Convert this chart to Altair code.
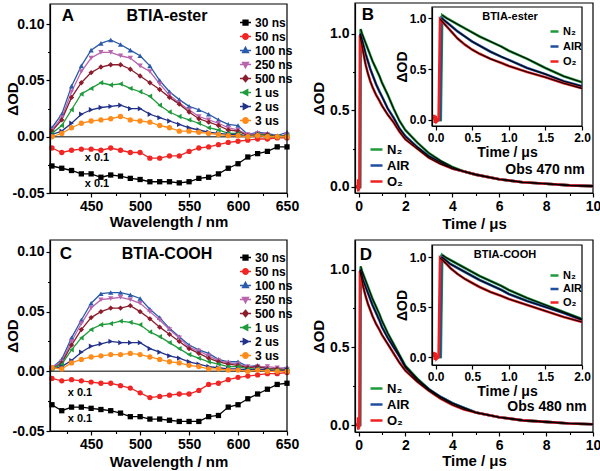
import altair as alt
import pandas as pd

FONT = "Liberation Sans"
W, H = 600, 471

# ---------------- spectra data ----------------
wavelength = [410, 420, 430, 440, 450, 460, 470, 480, 490, 500, 510, 520, 530,
              540, 550, 560, 570, 580, 590, 600, 610, 620, 630, 640, 650]
delays = ["30 ns", "50 ns", "100 ns", "250 ns", "500 ns", "1 us", "2 us", "3 us"]
delay_colors = ["#000000", "#f22525", "#2a5bab", "#b865ad", "#8b1d2c",
                "#1f9b3c", "#22318a", "#ff8c1a"]
delay_shapes = ["square", "circle", "triangle-up", "triangle-down", "diamond",
                "triangle-left", "triangle-right", "circle"]
# legend glyphs: a short line with the marker in its middle (unit square -1..1)
legend_glyphs = [
    "M-1,0H1M-0.45,-0.45H0.45V0.45H-0.45Z",
    "M-1,0H1M-0.5,0A0.5,0.5,0,1,0,0.5,0A0.5,0.5,0,1,0,-0.5,0Z",
    "M-1,0H1M0,-0.6L0.55,0.4L-0.55,0.4Z",
    "M-1,0H1M0,0.6L0.55,-0.4L-0.55,-0.4Z",
    "M-1,0H1M0,-0.6L0.5,0L0,0.6L-0.5,0Z",
    "M-1,0H1M-0.6,0L0.4,-0.55L0.4,0.55Z",
    "M-1,0H1M0.6,0L-0.4,-0.55L-0.4,0.55Z",
    "M-1,0H1M-0.5,0A0.5,0.5,0,1,0,0.5,0A0.5,0.5,0,1,0,-0.5,0Z",
]

ester_30ns = [-0.026, -0.028, -0.030, -0.033, -0.033, -0.036, -0.034, -0.035, -0.037, -0.038,
              -0.040, -0.040, -0.040, -0.041, -0.040, -0.037, -0.036, -0.033, -0.028, -0.024,
              -0.018, -0.015, -0.013, -0.009, -0.009]
ester_50ns = [-0.010, -0.014, -0.012, -0.011, -0.011, -0.012, -0.010, -0.012, -0.014, -0.014,
              -0.019, -0.019, -0.017, -0.017, -0.013, -0.010, -0.009, -0.007, -0.005, -0.004,
              -0.003, -0.002, -0.002, -0.001, -0.001]
ester_100ns = [0.008, 0.020, 0.045, 0.063, 0.077, 0.083, 0.086, 0.082, 0.077, 0.072,
               0.063, 0.050, 0.040, 0.033, 0.027, 0.024, 0.020, 0.015, 0.011, 0.010,
               0.002, 0.004, 0.003, 0.001, 0.004]
ester_250ns = [0.006, 0.017, 0.040, 0.058, 0.070, 0.075, 0.075, 0.072, 0.070, 0.063,
               0.058, 0.047, 0.037, 0.030, 0.024, 0.018, 0.015, 0.012, 0.008, 0.006,
               0.002, 0.003, 0.002, 0.000, 0.002]
ester_500ns = [0.005, 0.015, 0.035, 0.048, 0.057, 0.062, 0.064, 0.064, 0.060, 0.054,
               0.048, 0.042, 0.035, 0.029, 0.022, 0.016, 0.013, 0.010, 0.006, 0.005,
               0.001, 0.002, 0.002, 0.000, 0.001]
ester_1us = [0.003, 0.010, 0.024, 0.038, 0.043, 0.048, 0.046, 0.047, 0.043, 0.040,
             0.036, 0.028, 0.022, 0.018, 0.015, 0.012, 0.008, 0.006, 0.003, 0.003,
             0.000, 0.002, 0.001, 0.000, 0.001]
ester_2us = [0.002, 0.005, 0.012, 0.020, 0.024, 0.026, 0.027, 0.028, 0.025, 0.025,
             0.020, 0.017, 0.014, 0.011, 0.008, 0.006, 0.004, 0.003, 0.002, 0.002,
             0.000, 0.001, 0.000, 0.000, 0.000]
ester_3us = [0.000, 0.003, 0.008, 0.012, 0.014, 0.015, 0.016, 0.018, 0.015, 0.014,
             0.013, 0.010, 0.008, 0.005, 0.005, 0.004, 0.003, 0.002, 0.001, 0.001,
             0.000, 0.001, 0.000, 0.000, 0.000]

cooh_30ns = [-0.028, -0.033, -0.030, -0.030, -0.031, -0.032, -0.033, -0.035, -0.038, -0.038,
             -0.040, -0.040, -0.041, -0.042, -0.042, -0.042, -0.038, -0.037, -0.030, -0.028,
             -0.023, -0.019, -0.015, -0.011, -0.010]
cooh_50ns = [-0.006, -0.008, -0.007, -0.008, -0.009, -0.010, -0.010, -0.012, -0.014, -0.018,
             -0.022, -0.021, -0.020, -0.019, -0.019, -0.016, -0.011, -0.010, -0.007, -0.005,
             -0.004, -0.003, -0.002, -0.002, -0.001]
cooh_100ns = [0.003, 0.010, 0.028, 0.043, 0.057, 0.065, 0.066, 0.066, 0.064, 0.061,
              0.052, 0.045, 0.036, 0.029, 0.022, 0.018, 0.015, 0.010, 0.008, 0.008,
              0.004, 0.005, 0.002, 0.002, 0.003]
cooh_250ns = [0.003, 0.008, 0.025, 0.040, 0.053, 0.060, 0.061, 0.062, 0.060, 0.057,
              0.050, 0.043, 0.035, 0.028, 0.020, 0.017, 0.013, 0.009, 0.007, 0.006,
              0.004, 0.004, 0.004, 0.003, 0.002]
cooh_500ns = [0.002, 0.007, 0.022, 0.035, 0.045, 0.050, 0.053, 0.053, 0.055, 0.050,
              0.044, 0.037, 0.031, 0.025, 0.019, 0.015, 0.011, 0.008, 0.006, 0.005,
              0.003, 0.004, 0.002, 0.002, 0.001]
cooh_1us = [0.002, 0.006, 0.018, 0.028, 0.035, 0.039, 0.040, 0.042, 0.041, 0.039,
            0.033, 0.029, 0.024, 0.019, 0.014, 0.011, 0.008, 0.006, 0.004, 0.004,
            0.002, 0.002, 0.001, 0.001, 0.001]
cooh_2us = [0.002, 0.004, 0.009, 0.016, 0.021, 0.023, 0.025, 0.024, 0.024, 0.024,
            0.019, 0.016, 0.013, 0.011, 0.008, 0.006, 0.004, 0.003, 0.002, 0.002,
            0.001, 0.002, 0.001, 0.000, 0.001]
cooh_3us = [0.003, 0.002, 0.007, 0.010, 0.012, 0.013, 0.014, 0.014, 0.015, 0.014,
            0.012, 0.010, 0.008, 0.007, 0.005, 0.004, 0.002, 0.002, 0.001, 0.001,
            0.000, 0.001, 0.000, 0.000, 0.000]

# ---------------- kinetics data ----------------
gases = ["N\u2082", "AIR", "O\u2082"]
gas_colors = ["#1e9a3a", "#1f4e9f", "#f02020"]

t_n2 = [-0.15, 0.0, 0.07, 0.09, 0.15, 0.2, 0.3, 0.4, 0.5, 0.6, 0.75, 0.9, 1.0, 1.25, 1.5,
        1.75, 2.0, 2.5, 3.0, 3.5, 4.0, 4.5, 5.0, 6.0, 7.0, 8.0, 9.0, 10.0]
t_air = [-0.15, 0.0, 0.06, 0.08, 0.15, 0.2, 0.3, 0.4, 0.5, 0.6, 0.75, 0.9, 1.0, 1.25, 1.5,
         1.75, 2.0, 2.5, 3.0, 3.5, 4.0, 4.5, 5.0, 6.0, 7.0, 8.0, 9.0, 10.0]
t_o2 = [-0.15, -0.03, -0.02, -0.01, 0.0, 0.01, 0.04, 0.06, 0.15, 0.2, 0.3, 0.4, 0.5, 0.6,
        0.75, 0.9, 1.0, 1.25, 1.5, 1.75, 2.0, 2.5, 3.0, 3.5, 4.0, 4.5, 5.0, 6.0, 7.0, 8.0,
        9.0, 10.0]

ester_n2 = [0.0, 0.0, 0.0, 1.03, 1.00, 0.98, 0.94, 0.90, 0.86, 0.82, 0.77, 0.72, 0.68, 0.60,
            0.51, 0.43, 0.37, 0.29, 0.22, 0.17, 0.13, 0.10, 0.08, 0.05, 0.03, 0.02, 0.01, 0.005]
ester_air = [0.0, 0.0, 0.0, 1.00, 0.96, 0.93, 0.87, 0.82, 0.77, 0.73, 0.67, 0.62, 0.59, 0.51,
             0.45, 0.38, 0.33, 0.26, 0.20, 0.16, 0.12, 0.10, 0.08, 0.05, 0.03, 0.02, 0.01, 0.005]
ester_o2 = [0.0, 0.0, 0.05, -0.03, 0.04, -0.02, 0.0, 0.99, 0.92, 0.88, 0.80, 0.74, 0.69, 0.65,
            0.60, 0.56, 0.53, 0.47, 0.42, 0.36, 0.31, 0.25, 0.19, 0.15, 0.12, 0.10, 0.08, 0.05,
            0.03, 0.02, 0.01, 0.005]

cooh_n2 = [0.0, 0.0, 0.0, 1.02, 0.99, 0.97, 0.93, 0.89, 0.85, 0.81, 0.76, 0.71, 0.67, 0.59,
           0.52, 0.45, 0.38, 0.30, 0.23, 0.18, 0.14, 0.11, 0.08, 0.05, 0.03, 0.02, 0.01, 0.005]
cooh_air = [0.0, 0.0, 0.0, 1.00, 0.96, 0.93, 0.89, 0.85, 0.81, 0.77, 0.72, 0.67, 0.63, 0.56,
            0.50, 0.44, 0.37, 0.29, 0.23, 0.18, 0.14, 0.11, 0.08, 0.05, 0.03, 0.02, 0.01, 0.005]
cooh_o2 = [0.0, 0.0, 0.05, -0.03, 0.04, -0.02, 0.0, 0.99, 0.93, 0.89, 0.83, 0.78, 0.74, 0.70,
           0.65, 0.61, 0.58, 0.52, 0.46, 0.40, 0.35, 0.28, 0.22, 0.17, 0.13, 0.10, 0.08, 0.05,
           0.03, 0.02, 0.01, 0.005]
peak_index = [3, 3, 7]

AX = dict(labelFont=FONT, labelFontWeight="bold", labelColor="black",
          titleFont=FONT, titleFontWeight="bold", titleColor="black",
          domainColor="black", domainWidth=1.2, tickColor="black", tickWidth=1.2,
          grid=False, labelFlush=False, labelOverlap=False, zindex=1)


def txt(text, x, y, size, align="center"):
    return alt.Chart(alt.Data(values=[{}])).mark_text(
        text=text, font=FONT, fontSize=size, fontWeight="bold", align=align,
        baseline="middle", color="black").encode(x=alt.value(x), y=alt.value(y))


def minor_ticks(xr, yr, xdom, ydom, xvals, yvals):
    """Unlabelled minor ticks on an identical, separate copy of a panel's scales."""
    xsc = alt.Scale(domain=xdom, range=xr, nice=False, zero=False)
    ysc = alt.Scale(domain=ydom, range=yr, nice=False, zero=False)
    mk = dict(labels=False, domain=False, title=None, tickSize=2.5, tickColor="black",
              tickWidth=1.1, grid=False, zindex=1)
    df = pd.DataFrame({"a": xdom, "b": ydom})
    return alt.Chart(df).mark_point(opacity=0).encode(
        x=alt.X("a:Q", scale=xsc,
                axis=alt.Axis(orient="bottom", offset=yr[0] - H, values=xvals, **mk)),
        y=alt.Y("b:Q", scale=ysc,
                axis=alt.Axis(orient="left", offset=-xr[0], values=yvals, **mk)))


def delay_legend(leg_xy):
    """Legend of line+marker glyphs, from its own colour and shape scales."""
    df = pd.DataFrame({"delay": delays})
    leg = alt.Legend(orient="none", legendX=leg_xy[0], legendY=leg_xy[1], title=None,
                     labelFont=FONT, labelFontSize=12, labelFontWeight="bold",
                     labelColor="black", labelOffset=3, rowPadding=1, padding=0,
                     symbolSize=121, symbolStrokeWidth=1.3, symbolOpacity=1)
    return alt.Chart(df).mark_point(filled=True, opacity=0).encode(
        x=alt.value(0), y=alt.value(0),
        fill=alt.Fill("delay:N", scale=alt.Scale(domain=delays, range=delay_colors),
                      legend=leg),
        stroke=alt.Stroke("delay:N", scale=alt.Scale(domain=delays, range=delay_colors),
                          legend=leg),
        shape=alt.Shape("delay:N", scale=alt.Scale(domain=delays, range=legend_glyphs),
                        legend=leg))


def spectra_panel(series, xr, yr, ydom, letter, name, notes, title_y):
    rows = []
    for d, vals in zip(delays, series):
        for w, v in zip(wavelength, vals):
            rows.append({"wl": w, "od": v, "delay": d})
    df = pd.DataFrame(rows)
    xdom = [408, 650]
    xsc = alt.Scale(domain=xdom, range=xr, nice=False, zero=False)
    ysc = alt.Scale(domain=ydom, range=yr, nice=False, zero=False)
    xax = alt.Axis(orient="bottom", offset=yr[0] - H, values=[450, 500, 550, 600, 650],
                   format="d", labelFontSize=14, tickSize=4, labelPadding=2,
                   title="Wavelength / nm", titleFontSize=15,
                   titleX=(xr[0] + xr[1]) / 2, titleY=title_y, titleAlign="center",
                   titleBaseline="middle", **AX)
    yax = alt.Axis(orient="left", offset=-xr[0], values=[-0.05, 0.0, 0.05, 0.10],
                   labelExpr="replace(format(datum.value, '.2f'), '\u2212', '-')",
                   labelFontSize=14, tickSize=4, labelPadding=2,
                   title="\u0394OD", titleFontSize=15, titleAngle=270,
                   titleX=12 - xr[0], titleY=(yr[0] + yr[1]) / 2,
                   titleAlign="center", titleBaseline="middle", **AX)
    X = alt.X("wl:Q", scale=xsc, axis=xax)
    Y = alt.Y("od:Q", scale=ysc, axis=yax)
    base = alt.Chart(df)
    lines = base.mark_line(strokeWidth=1.3).encode(
        x=X, y=Y,
        color=alt.Color("delay:N", scale=alt.Scale(domain=delays, range=delay_colors),
                        legend=None))
    points = base.mark_point(filled=True, size=28, opacity=1, strokeWidth=0).encode(
        x=X, y=Y,
        fill=alt.Fill("delay:N", scale=alt.Scale(domain=delays, range=delay_colors),
                      legend=None),
        shape=alt.Shape("delay:N", scale=alt.Scale(domain=delays, range=delay_shapes),
                        legend=None))
    zero = alt.Chart(alt.Data(values=[{}])).mark_rule(color="#555555", strokeWidth=1.6).encode(
        x=alt.datum(xdom[0], scale=xsc), x2=alt.datum(xdom[1]),
        y=alt.datum(0.0, scale=ysc))
    frame = alt.Chart(alt.Data(values=[{}])).mark_rect(
        fillOpacity=0, stroke="black", strokeWidth=1.2).encode(
        x=alt.datum(xdom[0], scale=xsc), x2=alt.datum(xdom[1]),
        y=alt.datum(ydom[0], scale=ysc), y2=alt.datum(ydom[1]))
    texts = [txt(letter[0], letter[1], letter[2], 17),
             txt(name[0], name[1], name[2], 16)]
    for nx, ny in notes:
        texts.append(txt("x 0.1", nx, ny, 11))
    return alt.layer(zero, lines, points, frame, *texts)


def kin_frames(ts, vs, tmin=-1.0, tmax=100.0):
    rows, fit = [], []
    for g, t, v, p in zip(gases, ts, vs, peak_index):
        for i, (tt, vv) in enumerate(zip(t, v)):
            if tt < tmin or tt > tmax:
                continue
            rows.append({"t": tt, "v": vv, "gas": g})
            if i >= p:
                fit.append({"t": tt, "v": vv, "gas": g})
    return pd.DataFrame(rows), pd.DataFrame(fit)


def kin_panel(df, fit, xr, yr, xdom, ydom, xvals, xfmt, lab_size, title_size, tick_title_y,
              ytitle_x, leg_xy, leg_size, sym, row_pad, inset=False, texts=()):
    xsc = alt.Scale(domain=xdom, range=xr, nice=False, zero=False)
    ysc = alt.Scale(domain=ydom, range=yr, nice=False, zero=False)
    xax = alt.Axis(orient="bottom", offset=yr[0] - H, values=xvals, format=xfmt,
                   labelFontSize=lab_size, tickSize=4, labelPadding=2,
                   title="Time / \u03bcs", titleFontSize=title_size,
                   titleX=(xr[0] + xr[1]) / 2, titleY=tick_title_y, titleAlign="center",
                   titleBaseline="middle", **AX)
    yax = alt.Axis(orient="left", offset=-xr[0], values=[0.0, 0.5, 1.0], format=".1f",
                   labelFontSize=lab_size, tickSize=4, labelPadding=2,
                   title="\u0394OD", titleFontSize=title_size, titleAngle=270,
                   titleX=ytitle_x - xr[0], titleY=(yr[0] + yr[1]) / 2,
                   titleAlign="center", titleBaseline="middle", **AX)
    X = alt.X("t:Q", scale=xsc, axis=xax)
    Y = alt.Y("v:Q", scale=ysc, axis=yax)
    bg = alt.Chart(alt.Data(values=[{}])).mark_rect(
        fill="white", fillOpacity=1 if inset else 0, stroke="black", strokeWidth=1.2).encode(
        x=alt.datum(xdom[0], scale=xsc), x2=alt.datum(xdom[1]),
        y=alt.datum(ydom[0], scale=ysc), y2=alt.datum(ydom[1]))
    data = alt.Chart(df).mark_line(strokeWidth=2.6).encode(
        x=X, y=Y,
        color=alt.Color("gas:N", scale=alt.Scale(domain=gases, range=gas_colors),
                        legend=alt.Legend(orient="none", legendX=leg_xy[0],
                                          legendY=leg_xy[1], title=None,
                                          symbolType="stroke", symbolSize=sym,
                                          symbolStrokeWidth=2.5, labelFont=FONT,
                                          labelFontSize=leg_size, labelFontWeight="bold",
                                          labelColor="black", labelOffset=3,
                                          rowPadding=row_pad, padding=0)),
        order=alt.Order("t:Q"))
    fits = alt.Chart(fit).mark_line(strokeWidth=1.1, color="black").encode(
        x=X, y=Y, detail="gas:N", order=alt.Order("t:Q"))
    extra = [txt(*tx) for tx in texts]
    return alt.layer(bg, data, fits, *extra)


panelA = spectra_panel(
    [ester_30ns, ester_50ns, ester_100ns, ester_250ns, ester_500ns, ester_1us, ester_2us, ester_3us],
    [50, 287], [193, 4], [-0.05, 0.118], ("A", 68, 16), ("BTIA-ester", 167, 16),
    [(97, 158), (97, 184)], 28)
panelC = spectra_panel(
    [cooh_30ns, cooh_50ns, cooh_100ns, cooh_250ns, cooh_500ns, cooh_1us, cooh_2us, cooh_3us],
    [50, 287], [431, 240], [-0.05, 0.11], ("C", 66, 254), ("BTIA-COOH", 167, 254),
    [(80, 393), (80, 419)], 30)
legendA = delay_legend((239, 16))
legendC = delay_legend((239, 251))
minorA = minor_ticks([50, 287], [193, 4], [408, 650], [-0.05, 0.118],
                     [425, 475, 525, 575, 625], [-0.025, 0.025, 0.075])
minorC = minor_ticks([50, 287], [431, 240], [408, 650], [-0.05, 0.11],
                     [425, 475, 525, 575, 625], [-0.025, 0.025, 0.075])

dfB, fitB = kin_frames([t_n2, t_air, t_o2], [ester_n2, ester_air, ester_o2])
dfD, fitD = kin_frames([t_n2, t_air, t_o2], [cooh_n2, cooh_air, cooh_o2])
dfBi, fitBi = kin_frames([t_n2, t_air, t_o2], [ester_n2, ester_air, ester_o2], -0.05, 2.0)
dfDi, fitDi = kin_frames([t_n2, t_air, t_o2], [cooh_n2, cooh_air, cooh_o2], -0.05, 2.0)

panelB = kin_panel(dfB, fitB, [355, 593], [193, 3], [-0.15, 10], [-0.04, 1.2],
                   [0, 2, 4, 6, 8, 10], "d", 14, 15, 30, 318, (369, 142), 13, 144, 1,
                   texts=[("B", 368, 15, 17), ("Obs 470 nm", 545, 170, 14)])
insetB = kin_panel(dfBi, fitBi, [432, 582], [126, 7],
                   [-0.05, 2.0], [-0.06, 1.11], [0, 0.5, 1.0, 1.5, 2.0], ".1f", 12, 14, 26,
                   402, (549, 26), 11, 64, 3, inset=True,
                   texts=[("BTIA-ester", 510, 17, 11)])
panelD = kin_panel(dfD, fitD, [355, 593], [432, 240], [-0.15, 10], [-0.045, 1.19],
                   [0, 2, 4, 6, 8, 10], "d", 14, 15, 28, 318, (369, 381), 13, 144, 1,
                   texts=[("D", 366, 255, 17), ("Obs 480 nm", 547, 407, 14)])
insetD = kin_panel(dfDi, fitDi, [432, 582], [365, 245],
                   [-0.05, 2.0], [-0.08, 1.12], [0, 0.5, 1.0, 1.5, 2.0], ".1f", 12, 14, 26,
                   402, (549, 270), 11, 64, 1.5, inset=True,
                   texts=[("BTIA-COOH", 505, 255, 11)])
minorB = minor_ticks([355, 593], [193, 3], [-0.15, 10], [-0.04, 1.2],
                     [1, 3, 5, 7, 9], [0.25, 0.75])
minorD = minor_ticks([355, 593], [432, 240], [-0.15, 10], [-0.045, 1.19],
                     [1, 3, 5, 7, 9], [0.25, 0.75])

chart = alt.layer(panelA, minorA, legendA, panelB, minorB, insetB,
                  panelC, minorC, legendC, panelD, minorD, insetD).resolve_scale(
    x="independent", y="independent", color="independent", fill="independent",
    stroke="independent", shape="independent"
).properties(
    width=W, height=H, padding=0, autosize=alt.AutoSizeParams(type="none"),
    background="white"
).configure_view(stroke=None)

chart.save("out.html", embed_options={"renderer": "svg", "actions": False})
